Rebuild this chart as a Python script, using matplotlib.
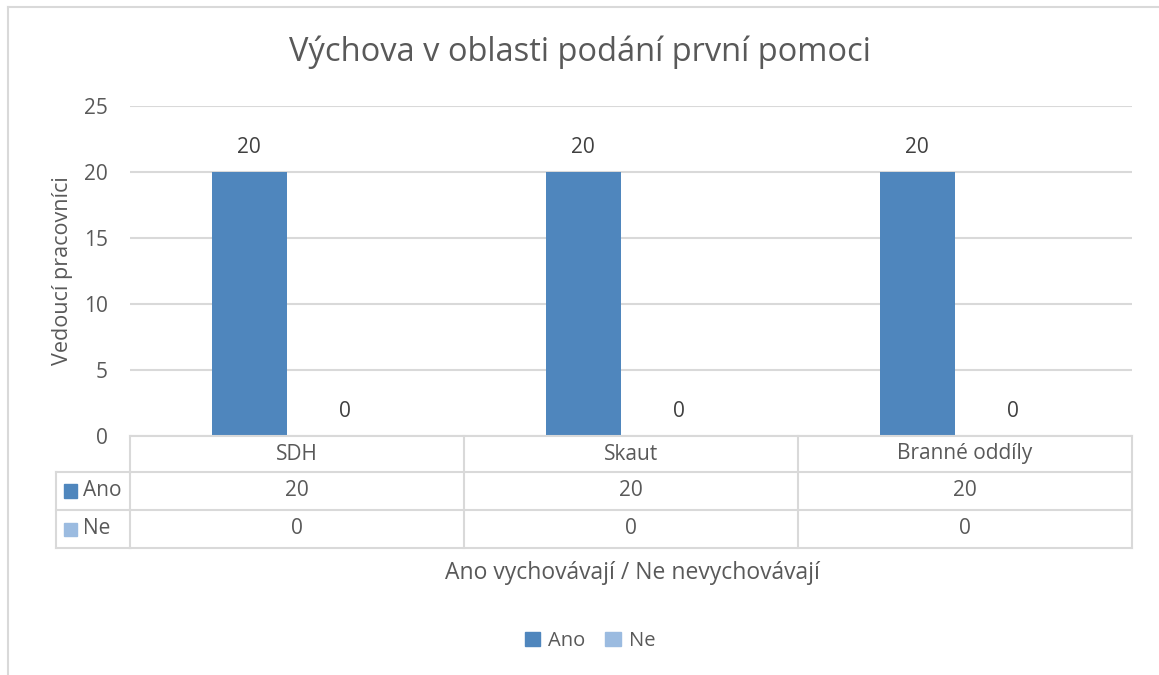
import numpy as np
import matplotlib.pyplot as plt
from matplotlib.patches import Patch
from matplotlib.lines import Line2D
import matplotlib.transforms as mtransforms

plt.rcParams['font.family'] = ['Open Sans', 'DejaVu Sans']

## Data
categories = ['SDH', 'Skaut', 'Branné oddíly']
series_names = ['Ano', 'Ne']
ano = [20, 20, 20]
ne = [0, 0, 0]
title = 'Výchova v oblasti podání první pomoci'
ylabel = 'Vedoucí pracovníci'
xlabel = 'Ano vychovávají / Ne nevychovávají'

c_ano = '#4F86BD'
c_ne = '#9BBBE0'
txt = '#595959'
grid = '#D9D9D9'

W, H = 1159, 675
fig = plt.figure(figsize=(W / 100, H / 100), dpi=100)

def fx(px):
    return px / W

def fy(py):
    return 1 - py / H

## Outer chart border (only top and left visible)
fig.add_artist(Line2D([fx(8), 1], [fy(7), fy(7)], color=grid, lw=1.5))
fig.add_artist(Line2D([fx(8), fx(8)], [fy(7), 0], color=grid, lw=1.5))

## Plot area
left, right, top, bottom = 130, 1132, 106, 436
ax = fig.add_axes([fx(left), fy(bottom), fx(right - left), fy(top) - fy(bottom)])
x = np.arange(len(categories))
w = 0.225
off = 0.143
b1 = ax.bar(x - off, ano, w, color=c_ano)
b2 = ax.bar(x + off, ne, w, color=c_ne)
ax.bar_label(b1, padding=10, fontsize=15, color='#404040')
ax.bar_label(b2, padding=10, fontsize=15, color='#404040')

ax.set_xlim(-0.5, len(categories) - 0.5)
ax.set_ylim(0, 25)
ax.set_yticks([0, 5, 10, 15, 20, 25])
ax.yaxis.grid(True, color=grid, lw=1.5)
ax.set_axisbelow(True)
ax.tick_params(axis='y', length=0, pad=16, labelsize=15, labelcolor=txt)
ax.set_xticks([])
for s in ax.spines.values():
    s.set_visible(False)
ax.set_ylabel(ylabel, fontsize=15.5, color=txt, labelpad=8)

fig.text(0.5, fy(52), title, ha='center', va='center', fontsize=23.5, color=txt)

## Data table below the plot
tr = mtransforms.blended_transform_factory(ax.transData, fig.transFigure)
row_lines = [436, 472, 510, 548]
xs_edges = np.arange(len(categories) + 1) - 0.5
lw_t = 1.5
for yp in row_lines:
    ax.add_line(Line2D([xs_edges[0], xs_edges[-1]], [fy(yp), fy(yp)], transform=tr,
                       color=grid, lw=lw_t, clip_on=False))
for xe in xs_edges:
    ax.add_line(Line2D([xe, xe], [fy(436), fy(548)], transform=tr,
                       color=grid, lw=lw_t, clip_on=False))
# legend column of table
for yp in [472, 510, 548]:
    fig.add_artist(Line2D([fx(56), fx(left)], [fy(yp), fy(yp)], color=grid, lw=lw_t))
fig.add_artist(Line2D([fx(56), fx(56)], [fy(472), fy(548)], color=grid, lw=lw_t))

for i, cat in enumerate(categories):
    ax.text(i, fy(454), cat, transform=tr, ha='center', va='center', fontsize=15, color=txt)
    ax.text(i, fy(491), str(ano[i]), transform=tr, ha='center', va='center', fontsize=15, color=txt)
    ax.text(i, fy(529), str(ne[i]), transform=tr, ha='center', va='center', fontsize=15, color=txt)

for yp, name, col in [(491, series_names[0], c_ano), (529, series_names[1], c_ne)]:
    fig.add_artist(plt.Rectangle((fx(64), fy(yp + 6.5)), fx(13), fy(yp - 6.5) - fy(yp + 6.5),
                                 color=col, transform=fig.transFigure))
    fig.text(fx(83), fy(yp), name, ha='left', va='center', fontsize=15, color=txt)

fig.text(fx(632), fy(573), xlabel, ha='center', va='center', fontsize=16.5, color=txt)

handles = [Patch(color=c_ano), Patch(color=c_ne)]
fig.legend(handles, series_names, loc='center', bbox_to_anchor=(fx(590), fy(641)),
           ncol=2, frameon=False, fontsize=14.5, labelcolor=txt,
           handlelength=0.75, handleheight=0.75, handletextpad=0.4, columnspacing=1.0)

fig.savefig('out.png', dpi=100, facecolor='white')
